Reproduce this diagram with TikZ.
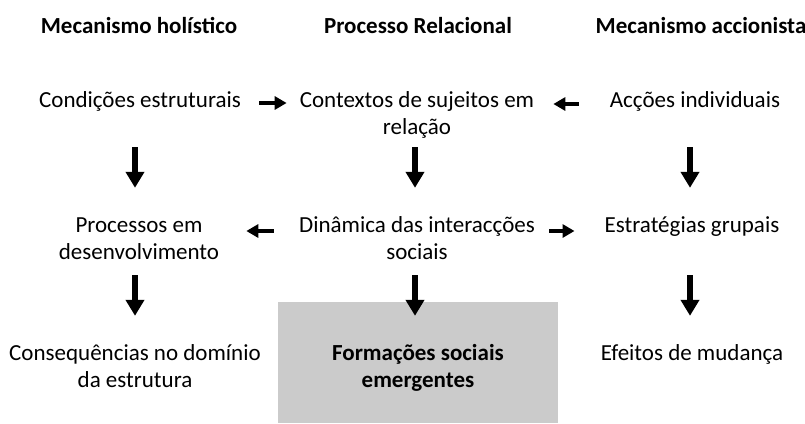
\documentclass[tikz,border=0pt]{standalone}
\usepackage{fontspec}
\setmainfont{Carlito}
\usetikzlibrary{arrows.meta}
\definecolor{boxgray}{HTML}{CBCBCB}
\tikzset{
  txt/.style={anchor=base, inner sep=0pt, align=center, text height=17pt, text depth=32pt,
    font=\fontsize{23}{27}\selectfont},
  txttwo/.style={anchor=base, inner sep=0pt, align=center, text height=44pt, text depth=5pt,
    font=\fontsize{23}{27}\selectfont},
  hdr/.style={anchor=base, inner sep=0pt, font=\fontsize{23}{27}\selectfont\bfseries},
  dn/.style={line width=5.5pt, -{Triangle[length=16pt,width=18pt]}, shorten <=8pt, shorten >=27pt},
  dnb/.style={line width=5.5pt, -{Triangle[length=16pt,width=18pt]}, shorten <=11pt, shorten >=27pt},
  hr/.style={line width=4pt, -{Triangle[length=12pt,width=13pt]}},
}
\begin{document}
\begin{tikzpicture}[x=1pt,y=-1pt]
\useasboundingbox (0,0) rectangle (805,423);
% gray box
\node[fill=boxgray, minimum width=280pt, minimum height=121pt, inner sep=0pt] (box) at (418,362.5) {};
% columns
\coordinate (k1) at (135,0);
\coordinate (k2) at (415,0);
\coordinate (k3) at (690,0);
% headers
\node[hdr] (h1) at (139,33) {Mecanismo holístico};
\node[hdr] (h2) at (418,33) {Processo Relacional};
\node[hdr] (h3) at (701,33) {Mecanismo accionista};
% row 1
\node[txt] (c1) at (140,107) {Condições estruturais};
\node[txttwo] (x1) at (417,134) {Contextos de sujeitos em\\relação};
\node[txt] (a1) at (695,107) {Acções individuais};
% row 2
\node[txttwo] (p1) at (139,259) {Processos em\\desenvolvimento};
\node[txttwo] (d1) at (417,259) {Dinâmica das interacções\\sociais};
\node[txt] (e1) at (692,232) {Estratégias grupais};
% row 3
\node[txttwo] (q1) at (135,387) {Consequências no domínio\\da estrutura};
\node[txttwo, font=\fontsize{23}{27}\selectfont\bfseries] (f1) at (418,387) {Formações sociais\\emergentes};
\node[txt] (m1) at (692,360) {Efeitos de mudança};
% vertical arrows
\draw[dn] (c1.south -| k1) -- (p1.north -| k1);
\draw[dn] (x1.south -| k2) -- (d1.north -| k2);
\draw[dn] (a1.south -| k3) -- (e1.north -| k3);
\draw[dnb] (p1.south -| k1) -- (q1.north -| k1);
\draw[dnb] (d1.south -| k2) -- (f1.north -| k2);
\draw[dnb] (e1.south -| k3) -- (m1.north -| k3);
% horizontal arrows
\draw[hr, shorten <=18pt, shorten >=13pt] ([yshift=4pt]c1.base east) -- ([yshift=4pt]c1.base east -| x1.west);
\draw[hr, shorten <=31pt, shorten >=19pt] ([yshift=3pt]a1.base west) -- ([yshift=3pt]a1.base west -| x1.east);
\draw[hr, shorten <=25pt, shorten >=27pt] ([yshift=1pt]e1.base west -| d1.west) -- ([yshift=1pt]e1.base west -| p1.east);
\draw[hr, shorten <=14pt, shorten >=30pt] ([yshift=1pt]e1.base west -| d1.east) -- ([yshift=1pt]e1.base west);
\end{tikzpicture}
\end{document}
